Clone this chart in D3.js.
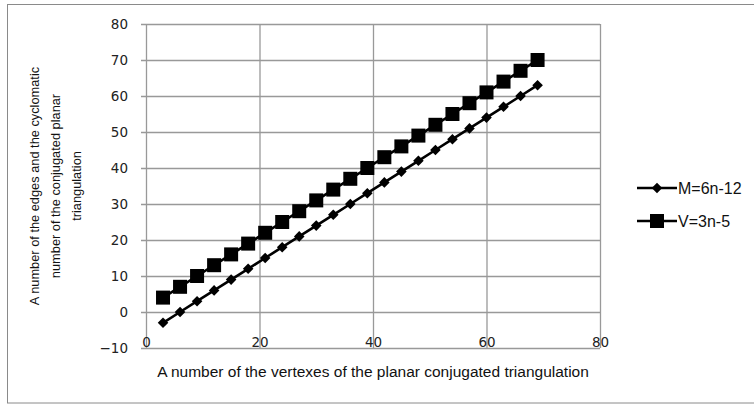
<!DOCTYPE html>
<html><head><meta charset="utf-8">
<script src="https://cdn.jsdelivr.net/npm/d3@7"></script>
<style>body{margin:0;background:#fff}svg{display:block}</style>
</head><body>
<script>
const xValues = [3,6,9,12,15,18,21,24,27,30,33,36,39,42,45,48,51,54,57,60,63,66,69];
const seriesM = [-3,0,3,6,9,12,15,18,21,24,27,30,33,36,39,42,45,48,51,54,57,60,63];
const seriesV = [4,7,10,13,16,19,22,25,28,31,34,37,40,43,46,49,52,55,58,61,64,67,70];
const xTicks = [0,20,40,60,80];
const yTicks = [-10,0,10,20,30,40,50,60,70,80];
const seriesNames = ["M=6n-12","V=3n-5"];
const xTitle = "A number of the vertexes of the planar conjugated triangulation";
const yTitleLines = ["A number of the edges and the cyclomatic","number of the conjugated planar","triangulation"];

const W=754,H=405;
const svg=d3.select("body").append("svg").attr("width",W).attr("height",H);
svg.append("rect").attr("x",7.5).attr("y",4.5).attr("width",W).attr("height",398.5)
  .attr("fill","#fff").attr("stroke","#8a8a8a").attr("stroke-width",1);

const x=d3.scaleLinear().domain([0,80]).range([146,600]);
const y=d3.scaleLinear().domain([-10,80]).range([348,24]);
const grid="#999";
const tickFont="'DejaVu Sans', sans-serif";

// horizontal gridlines + ticks
const gy=svg.append("g").attr("transform",`translate(${x(0)},0)`)
  .call(d3.axisLeft(y).tickValues(yTicks).tickSize(-(x(80)-x(0))).tickSizeOuter(0).tickPadding(12));
gy.select(".domain").remove();
gy.selectAll(".tick line").attr("stroke",grid).attr("stroke-width",1.3).attr("x1",-5);
gy.selectAll(".tick text").attr("font-family",tickFont).attr("font-size",13.5).attr("fill","#222").attr("x",-18);

// vertical gridlines
const gx=svg.append("g").attr("transform",`translate(0,${y(-10)})`)
  .call(d3.axisBottom(x).tickValues(xTicks).tickSize(-(y(-10)-y(80))).tickSizeOuter(0));
gx.select(".domain").remove();
gx.selectAll(".tick line").attr("stroke",grid).attr("stroke-width",1.3);
gx.selectAll(".tick text").attr("font-family",tickFont).attr("font-size",13.5).attr("fill","#222")
  .attr("y",0).attr("dy","-0.05em");

// data lines
const line=d3.line().x((d,i)=>x(xValues[i])).y(d=>y(d));
const diamond=d3.symbol().type(d3.symbolSquare).size(56);
const gM=svg.append("g");
gM.append("path").datum(seriesM).attr("d",line).attr("fill","none").attr("stroke","#000").attr("stroke-width",2.6);
gM.selectAll("path.m").data(seriesM).join("path").attr("class","m")
  .attr("transform",(d,i)=>`translate(${x(xValues[i])},${y(d)}) rotate(45)`)
  .attr("d",diamond).attr("fill","#000");

const gV=svg.append("g");
gV.append("path").datum(seriesV).attr("d",line).attr("fill","none").attr("stroke","#000").attr("stroke-width",2.6);
gV.selectAll("rect").data(seriesV).join("rect")
  .attr("x",(d,i)=>x(xValues[i])-7).attr("y",d=>y(d)-7).attr("width",14).attr("height",14).attr("fill","#000");

// titles
const titleFont="'Liberation Sans', Arial, sans-serif";
svg.append("text").attr("x",373).attr("y",377).attr("text-anchor","middle")
  .attr("font-family",titleFont).attr("font-size",15.5).attr("fill","#111").text(xTitle);
const yt=svg.append("text").attr("transform","translate(46,186) rotate(-90)").attr("text-anchor","middle")
  .attr("font-family",titleFont).attr("font-size",12.8).attr("fill","#111");
yTitleLines.forEach((t,i)=>yt.append("tspan").attr("x",0).attr("y",(i-0.35)*21+0).text(t));

// legend
const leg=svg.append("g");
seriesNames.forEach((n,i)=>{
  const cy=188+i*33;
  leg.append("line").attr("x1",637).attr("x2",677).attr("y1",cy).attr("y2",cy).attr("stroke","#000").attr("stroke-width",2.6);
  if(i===0){
    leg.append("path").attr("transform",`translate(657,${cy}) rotate(45)`).attr("d",diamond).attr("fill","#000");
  } else {
    leg.append("rect").attr("x",650).attr("y",cy-7).attr("width",14).attr("height",14).attr("fill","#000");
  }
  leg.append("text").attr("x",678).attr("y",cy).attr("dy","0.36em").attr("font-family",titleFont)
    .attr("font-size",16).attr("fill","#111").text(n);
});
</script>
</body></html>
